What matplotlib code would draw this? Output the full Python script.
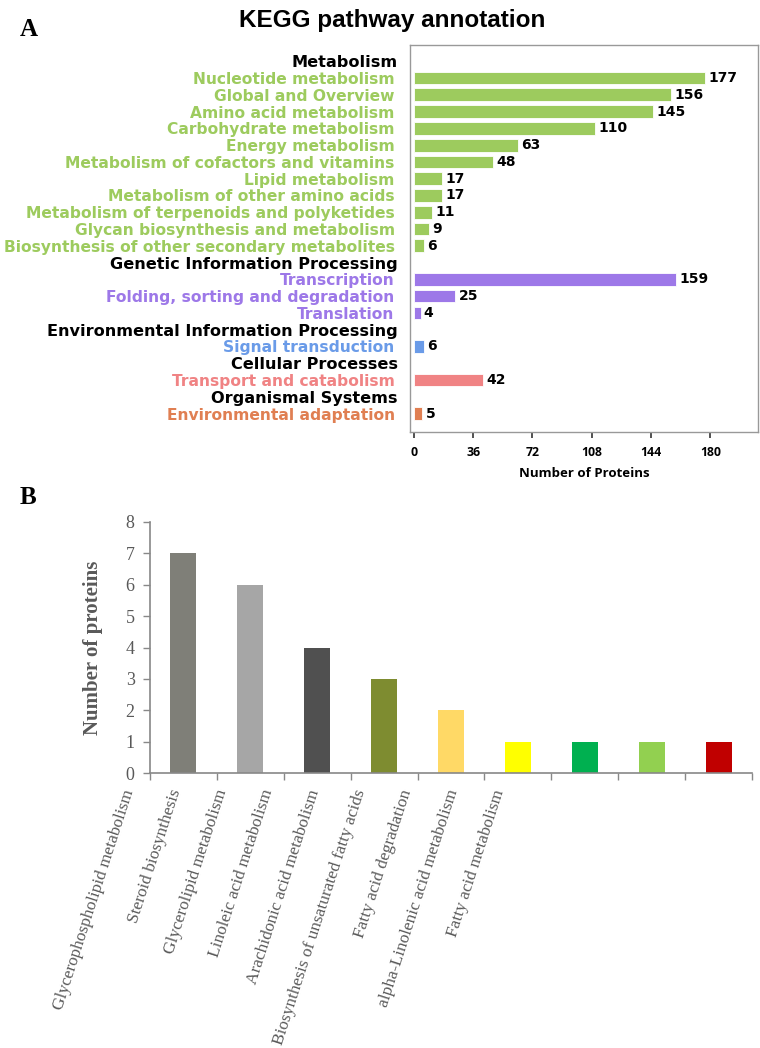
import matplotlib.pyplot as plt
from matplotlib.transforms import ScaledTranslation

# ---------------- data: panel A (KEGG) ----------------
kegg_labels = ['Metabolism',
               'Nucleotide metabolism', 'Global and Overview', 'Amino acid metabolism',
               'Carbohydrate metabolism', 'Energy metabolism',
               'Metabolism of cofactors and vitamins', 'Lipid metabolism',
               'Metabolism of other amino acids', 'Metabolism of terpenoids and polyketides',
               'Glycan biosynthesis and metabolism', 'Biosynthesis of other secondary metabolites',
               'Genetic Information Processing',
               'Transcription', 'Folding, sorting and degradation', 'Translation',
               'Environmental Information Processing',
               'Signal transduction',
               'Cellular Processes',
               'Transport and catabolism',
               'Organismal Systems',
               'Environmental adaptation']
# None = group header row
kegg_values = [None, 177, 156, 145, 110, 63, 48, 17, 17, 11, 9, 6,
               None, 159, 25, 4,
               None, 6,
               None, 42,
               None, 5]
kegg_groups = ['head', 'met', 'met', 'met', 'met', 'met', 'met', 'met', 'met', 'met', 'met', 'met',
               'head', 'gen', 'gen', 'gen',
               'head', 'env',
               'head', 'cel',
               'head', 'org']
group_colors = {'head': 'black', 'met': '#9dcb5e', 'gen': '#9d78e8',
                'env': '#6a9be8', 'cel': '#f08384', 'org': '#e07f52'}
kegg_ticks = [0, 36, 72, 108, 144, 180]

# ---------------- data: panel B (lipid pathways) ----------------
lipid_labels = ['Glycerophospholipid metabolism', 'Steroid biosynthesis',
                'Glycerolipid metabolism', 'Linoleic acid metabolism',
                'Arachidonic acid metabolism', 'Biosynthesis of unsaturated fatty acids',
                'Fatty acid degradation', 'alpha-Linolenic acid metabolism',
                'Fatty acid metabolism']
lipid_values = [7, 6, 4, 3, 2, 1, 1, 1, 1]
lipid_colors = ['#7f7f78', '#a6a6a6', '#505050', '#7e8c30', '#ffd966',
                '#ffff00', '#00b050', '#92d050', '#c00000']

fig = plt.figure(figsize=(7.6, 10.48), dpi=100)

# ================= Panel A =================
ax = fig.add_axes([410 / 760, 1 - 432 / 1048, 348 / 760, 387 / 1048])
rows = list(range(len(kegg_labels)))
for r, v, g in zip(rows, kegg_values, kegg_groups):
    if v is None:
        continue
    ax.barh(r, v, height=0.76, color=group_colors[g], edgecolor='white', linewidth=0.6)
    ax.text(v + 2, r, str(v), va='center', ha='left', fontsize=10,
            fontweight='bold', color='black', family='DejaVu Sans')

ax.set_ylim(22.1, -0.97)
ax.set_xlim(-2.4, 209)
ax.set_yticks(rows)
ax.set_yticklabels(kegg_labels)
ax.tick_params(axis='y', length=0, pad=11)
for lab, g in zip(ax.get_yticklabels(), kegg_groups):
    lab.set_color(group_colors[g])
    lab.set_fontweight('bold')
    lab.set_family('DejaVu Sans')
    lab.set_fontsize(11.2)
    if g == 'head':
        lab.set_fontsize(11.6)
        lab.set_transform(lab.get_transform() + ScaledTranslation(3 / 100, 0, fig.dpi_scale_trans))

ax.set_xticks(kegg_ticks)
ax.set_xticklabels([str(t) for t in kegg_ticks], fontsize=8.8, fontweight='bold', family='Open Sans')
ax.tick_params(axis='x', length=4, width=1.2, color='#333333', pad=6)
ax.set_xlabel('Number of Proteins', fontsize=9.5, fontweight='bold', family='Open Sans', labelpad=6)
for sp in ax.spines.values():
    sp.set_color('#999999')
    sp.set_linewidth(1.0)

fig.text(392 / 760, 1 - 20 / 1048, 'KEGG pathway annotation', ha='center', va='center',
         fontsize=17.5, fontweight='bold', family='Liberation Sans')
fig.text(29 / 760, 1 - 29 / 1048, 'A', ha='center', va='center', fontsize=18,
         fontweight='bold', family='Liberation Serif')

# ================= Panel B =================
bx = fig.add_axes([150 / 760, 1 - 773 / 1048, 602 / 760, 251 / 1048])
pos = list(range(len(lipid_labels)))
bx.bar(pos, lipid_values, width=0.39, color=lipid_colors)
bx.set_xlim(-0.5, len(pos) - 0.5)
bx.set_ylim(0, 8)
bx.set_yticks(range(0, 9))
bx.set_yticklabels([str(i) for i in range(0, 9)], fontsize=13, color='#595959',
                   family='Liberation Serif')
bx.tick_params(axis='y', length=5, width=1, color='#888888', pad=6)
bx.set_xticks([p - 0.5 for p in pos] + [len(pos) - 0.5])
bx.set_xticklabels([])
bx.tick_params(axis='x', length=5, width=1, color='#888888')
for s in ['top', 'right']:
    bx.spines[s].set_visible(False)
for s in ['left', 'bottom']:
    bx.spines[s].set_color('#888888')
    bx.spines[s].set_linewidth(1.2)
bx.set_ylabel('Number of proteins', fontsize=15, fontweight='bold', color='#595959',
              family='Liberation Serif', labelpad=16)

# category labels (drawn on a narrower label strip, as in the original figure)
lx = fig.add_axes([(130 - 23.1) / 760, 1 - 790 / 1048, 9 * 46.2 / 760, 0.001])
lx.set_xlim(-0.5, len(pos) - 0.5)
lx.set_xticks(pos)
lx.set_xticklabels(lipid_labels, rotation=72, ha='right', va='center',
                   rotation_mode='anchor', fontsize=12.4, color='#595959',
                   family='Liberation Serif')
lx.tick_params(axis='x', length=0, pad=0)
lx.set_yticks([])
for sp in lx.spines.values():
    sp.set_visible(False)
lx.patch.set_visible(False)

fig.text(28 / 760, 1 - 497 / 1048, 'B', ha='center', va='center', fontsize=18,
         fontweight='bold', family='Liberation Serif')

fig.savefig('out.png', dpi=100)
